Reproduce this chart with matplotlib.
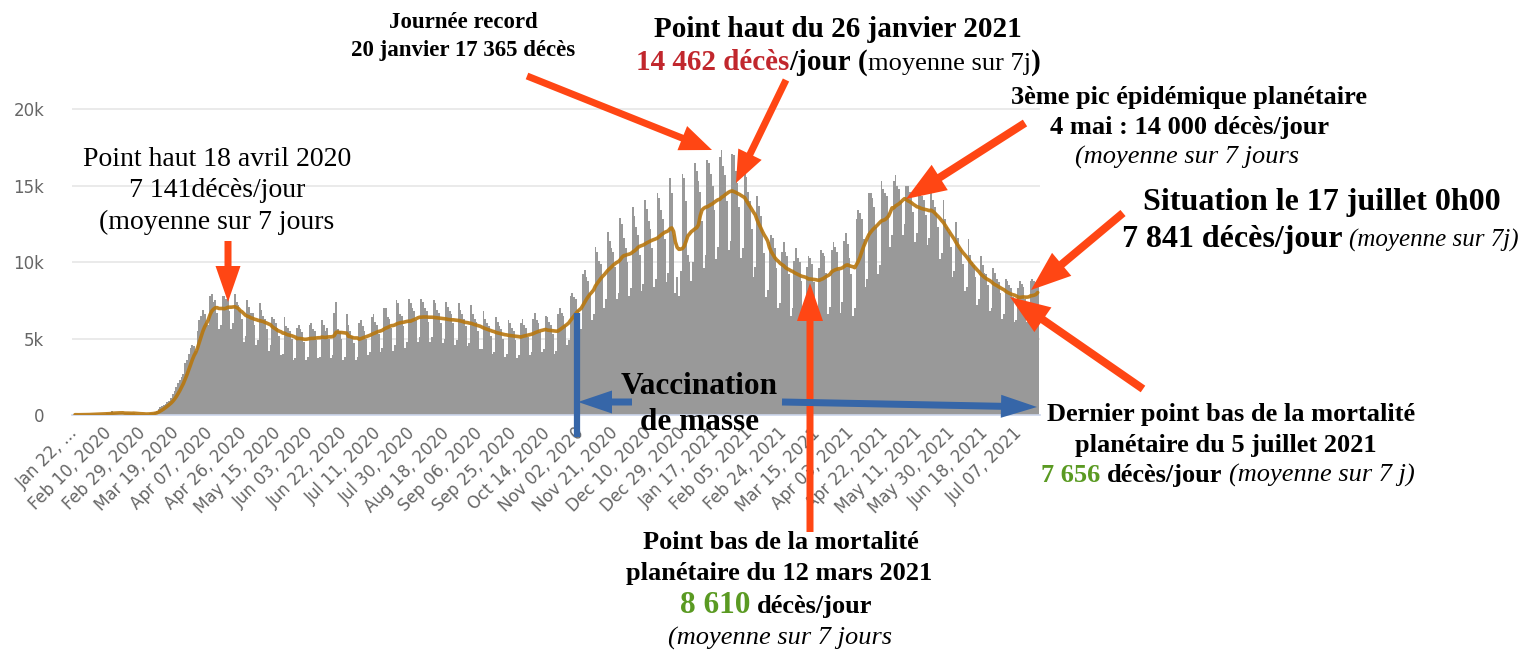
import numpy as np
import pandas as pd
import matplotlib
matplotlib.use("Agg")
import matplotlib.pyplot as plt
from matplotlib.patches import FancyArrow

# ====== Daily COVID deaths worldwide, in thousands ======
# one line = one week, Wednesday -> Tuesday, starting Jan 22, 2020
start_date = "2020-01-22"

deaths_jan_mar_2020 = [
    0.02, 0.01, 0.02, 0.02, 0.02, 0.03, 0.03,
    0.04, 0.04, 0.05, 0.05, 0.06, 0.06, 0.07,
    0.07, 0.07, 0.09, 0.09, 0.10, 0.11, 0.10,
    0.25, 0.12, 0.14, 0.14, 0.11, 0.10, 0.14,
    0.11, 0.12, 0.12, 0.10, 0.10, 0.15, 0.07,
    0.06, 0.05, 0.05, 0.07, 0.06, 0.07, 0.09,
    0.10, 0.12, 0.15, 0.20, 0.25, 0.40, 0.55,
    0.60, 0.65, 0.75, 0.85, 0.90, 1.10, 1.40,
    1.6, 1.8, 2.1, 2.3, 2.5, 2.7, 3.4,
    3.6, 4.0, 4.4, 4.6, 4.5, 4.2, 5.5,
]
deaths_apr_jun_2020 = [
    6.2, 6.5, 6.9, 6.6, 6.0, 5.9, 7.8,
    7.9, 7.4, 7.5, 6.7, 5.6, 5.9, 7.8,
    7.8, 7.6, 7.9, 6.8, 5.6, 6.0, 7.9,
    7.4, 7.2, 6.9, 6.3, 4.8, 5.2, 7.5,
    7.1, 6.7, 6.7, 5.9, 4.6, 4.9, 7.3,
    6.9, 6.5, 6.3, 5.6, 4.2, 4.6, 6.4,
    6.3, 6.0, 5.7, 5.2, 3.9, 4.0, 6.4,
    5.8, 5.7, 5.5, 5.0, 3.6, 3.7, 5.7,
    5.9, 5.6, 5.4, 4.8, 3.6, 3.8, 5.9,
    6.0, 5.6, 5.5, 4.9, 3.7, 3.8, 6.2,
    5.9, 5.5, 5.7, 5.0, 3.7, 3.9, 6.7,
    7.4, 5.6, 5.5, 5.0, 3.6, 3.8, 6.6,
    5.9, 5.5, 5.2, 4.7, 3.6, 3.8, 6.0,
]
deaths_jul_sep_2020 = [
    6.2, 5.8, 5.5, 5.0, 3.9, 4.1, 6.4,
    6.6, 6.1, 5.9, 5.3, 4.1, 4.4, 7.0,
    7.0, 6.4, 6.3, 5.7, 4.2, 4.6, 7.5,
    7.3, 6.6, 6.5, 5.8, 4.4, 4.8, 7.6,
    7.3, 7.0, 6.8, 6.2, 4.8, 5.1, 7.6,
    7.4, 7.0, 6.8, 6.1, 4.8, 5.1, 7.5,
    7.3, 6.9, 6.7, 6.0, 4.7, 5.0, 7.4,
    7.1, 6.8, 6.6, 6.0, 4.6, 4.9, 7.3,
    6.9, 6.6, 6.3, 5.8, 4.5, 4.7, 7.2,
    6.6, 6.3, 6.1, 5.5, 4.3, 4.3, 6.8,
    6.3, 6.0, 5.8, 5.2, 4.0, 4.1, 6.4,
    6.1, 5.8, 5.6, 5.0, 3.8, 4.0, 6.2,
    6.0, 5.7, 5.5, 4.9, 3.7, 3.9, 6.0,
]
deaths_oct_dec_2020 = [
    6.3, 5.9, 5.7, 5.1, 3.9, 4.1, 6.3,
    6.7, 6.2, 6.0, 5.4, 4.1, 4.3, 6.5,
    6.4, 6.1, 5.9, 5.3, 4.0, 4.2, 6.6,
    7.0, 6.7, 6.5, 5.9, 4.6, 4.9, 7.8,
    8.0, 7.7, 7.6, 6.9, 5.3, 5.6, 9.2,
    9.5, 9.0, 8.8, 8.0, 6.2, 6.6, 11.0,
    10.7, 10.1, 9.9, 9.0, 7.0, 7.6, 12.0,
    11.4, 10.9, 10.7, 9.7, 7.6, 8.0, 12.9,
    12.5, 11.6, 10.9, 10.0, 7.8, 8.3, 13.6,
    13.0, 12.3, 11.8, 10.5, 8.1, 8.6, 14.1,
    13.5, 12.7, 12.2, 10.9, 8.4, 8.9, 14.5,
    14.2, 13.4, 12.8, 11.5, 8.7, 9.3, 15.5,
    14.5, 11.8, 8.0, 9.0, 7.8, 9.4, 15.8,
]
deaths_jan_mar_2021 = [
    15.5, 14.0, 10.5, 10.0, 8.8, 10.0, 16.5,
    16.0, 15.3, 14.6, 12.7, 9.6, 10.5, 16.7,
    16.5, 15.8, 15.0, 13.4, 10.2, 11.0, 16.9,
    17.365, 16.3, 15.7, 14.0, 10.8, 11.4, 17.1,
    17.0, 16.0, 15.2, 13.6, 10.3, 10.9, 16.6,
    15.6, 14.6, 14.0, 12.2, 9.0, 9.7, 14.3,
    13.7, 13.0, 12.2, 10.6, 7.7, 8.2, 11.3,
    11.8, 11.6, 10.9, 9.6, 7.0, 7.3, 10.7,
    11.3, 10.7, 10.4, 9.2, 6.5, 7.0, 10.1,
    10.9, 10.3, 10.0, 8.8, 6.3, 6.8, 9.7,
    10.4, 10.3, 9.9, 8.7, 6.2, 6.6, 9.6,
    10.8, 10.6, 10.4, 9.3, 6.6, 7.1, 10.8,
    11.3, 11.0, 10.7, 9.5, 6.7, 7.4, 11.4,
]
deaths_apr_jul_2021 = [
    11.9, 11.2, 10.3, 9.2, 6.5, 7.0, 12.8,
    13.4, 13.2, 12.8, 11.5, 8.4, 8.9, 14.5,
    14.5, 14.2, 13.6, 12.3, 9.2, 9.8, 15.3,
    14.8, 14.5, 14.3, 13.2, 11.0, 11.8, 15.3,
    15.7, 15.0, 14.8, 14.0, 11.8, 12.5, 15.0,
    15.0, 14.6, 14.3, 13.3, 11.3, 11.9, 14.8,
    14.6, 14.3, 14.1, 13.1, 11.1, 11.6, 15.0,
    14.1, 13.6, 13.2, 12.3, 10.2, 10.6, 14.1,
    12.8, 12.3, 12.0, 11.0, 9.0, 9.4, 12.6,
    11.6, 11.0, 10.8, 9.9, 8.1, 8.4, 11.5,
    10.5, 10.0, 9.8, 9.0, 7.2, 7.6, 10.4,
    9.8, 9.3, 9.2, 8.5, 6.8, 7.0, 9.6,
    9.3, 8.9, 8.7, 8.0, 6.3, 6.6, 8.9,
    8.8, 8.5, 8.3, 7.7, 6.1, 6.2, 8.3,
    8.8, 8.6, 8.4, 7.6, 6.1, 6.3, 8.8,
    8.9, 8.8, 8.7, 8.5,
]

y_ticks = [0, 5000, 10000, 15000, 20000]
y_tick_labels = ["0", "5k", "10k", "15k", "20k"]
tick_step_days = 19

deaths_k = (deaths_jan_mar_2020 + deaths_apr_jun_2020 + deaths_jul_sep_2020
            + deaths_oct_dec_2020 + deaths_jan_mar_2021 + deaths_apr_jul_2021)
dates = pd.date_range(start_date, periods=len(deaths_k), freq="D")
deaths = pd.Series(np.array(deaths_k) * 1000, index=dates)
avg7 = deaths.rolling(7, min_periods=1).mean()
x = np.arange(len(deaths))

# ====== Figure ======
W, H = 1535, 650
fig = plt.figure(figsize=(W / 100, H / 100), dpi=100)

y_top = 20400
ax_left, ax_right, ax_bottom = 72, 1040, 415
ax_top = ax_bottom - y_top / 5000 * 76.4
ax = fig.add_axes([ax_left / W, 1 - ax_bottom / H,
                   (ax_right - ax_left) / W, (ax_bottom - ax_top) / H])

ax.bar(x, deaths.values, width=1.0, color="#999999", linewidth=0, zorder=2)
ax.plot(x, avg7.values, color="#b8770f", lw=2.6, alpha=0.9, zorder=3,
        solid_capstyle="round")

ax.set_xlim(-1.7, len(x) + 0.3)
ax.set_ylim(0, y_top)
ax.set_yticks(y_ticks)
ax.set_yticklabels(y_tick_labels)
ax.yaxis.grid(True, color="#e6e6e6", lw=1.2, zorder=0)
ax.set_axisbelow(True)

tick_idx = x[::tick_step_days]
tick_labels = [d.strftime("%b %d, %Y") for d in dates[tick_idx]]
tick_labels[0] = "Jan 22, ..."
ax.set_xticks(tick_idx)
ax.set_xticklabels(tick_labels, rotation=45, ha="right", va="center",
                   rotation_mode="anchor")
ax.tick_params(axis="both", length=0, labelsize=12, colors="#666666")
ax.tick_params(axis="y", pad=20)
ax.tick_params(axis="x", pad=11)
for lab in ax.get_xticklabels() + ax.get_yticklabels():
    lab.set_fontfamily("DejaVu Sans")
for s in ["top", "right", "left"]:
    ax.spines[s].set_visible(False)
ax.spines["bottom"].set_color("#ccd6eb")
ax.spines["bottom"].set_linewidth(1.2)

# ====== Annotation layer (pixel coordinates) ======
ov = fig.add_axes([0, 0, 1, 1], zorder=5)
ov.set_xlim(0, W)
ov.set_ylim(H, 0)
ov.axis("off")
ov.patch.set_alpha(0)

SERIF = "Liberation Serif"
RED = "#ff4614"
BLUE = "#3666a8"
DARKRED = "#c1272d"
GREEN = "#5a9a22"


def txt(cx, y, s, size, weight="bold", style="normal", color="black"):
    ov.text(cx, y, s, fontsize=size, fontweight=weight, fontstyle=style,
            color=color, family=SERIF, ha="center", va="baseline")


def rich(cx, y, parts, align="center"):
    # parts: (text, size, weight, style, color, gap_before in em)
    r = fig.canvas.get_renderer()
    items = []
    for s, size, weight, style, color, gap in parts:
        t = ov.text(0, y, s, fontsize=size, fontweight=weight, fontstyle=style,
                    color=color, family=SERIF, ha="left", va="baseline")
        w = t.get_window_extent(r).width
        items.append((t, w, gap * size / 0.72))
    total = sum(w + g for _, w, g in items)
    xx = cx - total / 2 if align == "center" else cx
    for t, w, g in items:
        xx += g
        t.set_x(xx)
        xx += w


def arrow(x0, y0, x1, y1, width=7, hw=26, hl=32, color=RED):
    ov.add_patch(FancyArrow(x0, y0, x1 - x0, y1 - y0, width=width,
                            head_width=hw, head_length=hl,
                            length_includes_head=True, color=color, lw=0))


fig.canvas.draw()

# record day
txt(463, 28, "Journée record", 16.5)
txt(463, 56, "20 janvier 17 365 décès", 16.5)
arrow(527, 76, 712, 150)

# peak January 2021
txt(838, 37, "Point haut du 26 janvier 2021", 21)
rich(838, 70, [("14 462 décès", 21, "bold", "normal", DARKRED, 0),
               ("/jour", 21, "bold", "normal", "black", 0),
               ("(", 21, "bold", "normal", "black", 0.25),
               ("moyenne sur 7j", 19, "normal", "normal", "black", 0),
               (")", 21, "bold", "normal", "black", 0)])
arrow(786, 80, 736, 183)

# peak April 2020
txt(217, 166, "Point haut 18 avril 2020", 20, weight="normal")
txt(217, 197, "7 141décès/jour", 20, weight="normal")
txt(217, 229, "(moyenne sur 7 jours", 20, weight="normal")
arrow(228, 241, 228, 302, width=7, hw=25, hl=36)

# third peak
txt(1189, 104, "3ème pic épidémique planétaire", 19)
txt(1190, 134, "4 mai : 14 000 décès/jour", 19)
txt(1187, 164, "(moyenne sur 7 jours", 19, weight="normal", style="italic")
arrow(1025, 123, 906, 199, width=8, hw=30, hl=40)

# situation July 17
txt(1322, 210, "Situation le 17 juillet 0h00", 23)
rich(1122, 247, [("7 841 décès/jour", 23, "bold", "normal", "black", 0),
                 ("(moyenne sur 7j)", 18, "normal", "italic", "black", 0.25)],
     align="left")
arrow(1123, 213, 1031, 290, width=8, hw=30, hl=40)

# last low point
txt(1231, 421, "Dernier point bas de la mortalité", 19)
txt(1226, 452, "planétaire du 5 juillet 2021", 19)
rich(1041, 482, [("7 656", 19, "bold", "normal", GREEN, 0),
                 ("décès/jour", 19, "bold", "normal", "black", 0.25),
                 ("(moyenne sur 7 j)", 19, "normal", "italic", "black", 0.25)],
     align="left")
arrow(1143, 389, 1010, 297, width=8, hw=30, hl=40)

# low point March 2021
txt(781, 549, "Point bas de la mortalité", 19)
txt(779, 580, "planétaire du 12 mars 2021", 19)
rich(776, 613, [("8 610", 22.5, "bold", "normal", GREEN, 0),
                ("décès/jour", 19, "bold", "normal", "black", 0.25)])
txt(780, 645, "(moyenne sur 7 jours", 19, weight="normal", style="italic")
arrow(810, 532, 810, 283, width=7, hw=26, hl=38)

# mass vaccination
txt(699, 394, "Vaccination", 22.5)
txt(699, 430, "de masse", 22.5)
ov.plot([577, 577], [313, 437], color=BLUE, lw=4.5, solid_capstyle="butt")
arrow(632, 402, 578, 402, width=7, hw=23, hl=34, color=BLUE)
arrow(782, 402, 1037, 407, width=7, hw=23, hl=36, color=BLUE)

fig.savefig("out.png", dpi=100)
